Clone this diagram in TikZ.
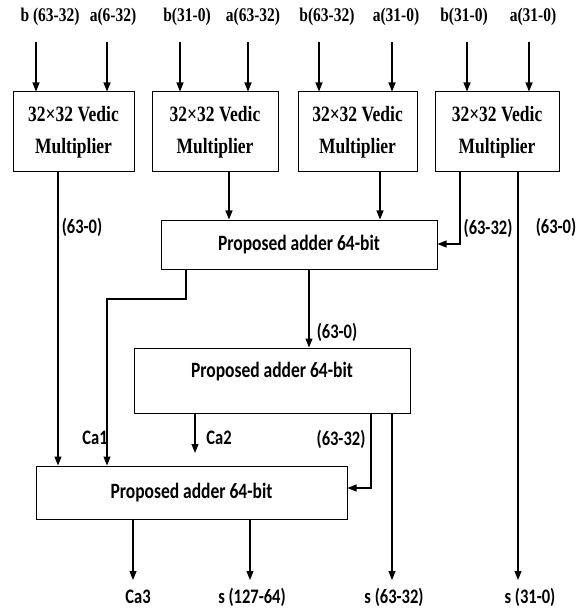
\documentclass[tikz,border=0pt]{standalone}
\usepackage{fontspec}
\setmainfont{Liberation Serif}
\newfontfamily\calfont{Carlito}
\usetikzlibrary{arrows.meta}
\newcommand{\vs}[1]{\scalebox{1}[1.25]{#1}}
\begin{document}
\begin{tikzpicture}[x=1pt,y=-1pt,
  box/.style={draw, line width=1pt, inner sep=0pt},
  mult/.style={box, align=center, font=\fontsize{17.5}{32}\selectfont\bfseries},
  adder/.style={box, font=\calfont\fontsize{17.5}{20}\selectfont\bfseries},
  inlab/.style={inner sep=0pt, font=\fontsize{15.5}{18}\selectfont\bfseries},
  lab/.style={inner sep=0pt, font=\calfont\fontsize{16.5}{18}\selectfont\bfseries},
  arr/.style={line width=1.1pt, -{Triangle[length=9pt,width=7pt]}},
  ln/.style={line width=1.1pt}]
\useasboundingbox (0,0) rectangle (582,612);
\fill[white] (0,0) rectangle (582,612);

% input labels
\node[inlab] (i1) at (50,17) {\vs{b (63-32)}};
\node[inlab] (i2) at (113,17) {\vs{a(6-32)}};
\node[inlab] (i3) at (187,17) {\vs{b(31-0)}};
\node[inlab] (i4) at (253,17) {\vs{a(63-32)}};
\node[inlab] (i5) at (327,17) {\vs{b(63-32)}};
\node[inlab] (i6) at (396,17) {\vs{a(31-0)}};
\node[inlab] (i7) at (464,17) {\vs{b(31-0)}};
\node[inlab] (i8) at (533,17) {\vs{a(31-0)}};

% multipliers
\node[mult, minimum width=121pt, minimum height=80pt] (m1) at (73.5,132) {\vs{32×32 Vedic}\\\vs{Multiplier}};
\node[mult, minimum width=126pt, minimum height=80pt] (m2) at (215,132) {\vs{32×32 Vedic}\\\vs{Multiplier}};
\node[mult, minimum width=119pt, minimum height=80pt] (m3) at (357.5,132) {\vs{32×32 Vedic}\\\vs{Multiplier}};
\node[mult, minimum width=124pt, minimum height=80pt] (m4) at (497,132) {\vs{32×32 Vedic}\\\vs{Multiplier}};

% adders
\node[adder, minimum width=276pt, minimum height=49pt] (a1) at (299,244.5) {\vs{Proposed adder 64-bit}};
\node[adder, minimum width=276pt, minimum height=65pt] (a2) at (272,380.5) {};
\node[lab, font=\calfont\fontsize{17.5}{20}\selectfont\bfseries] (a2t) at (272,372) {\vs{Proposed adder 64-bit}};
\node[adder, minimum width=311pt, minimum height=53pt] (a3) at (191.5,492.5) {\vs{Proposed adder 64-bit}};

% input arrows
\foreach \n/\x/\m in {1/36/m1,2/107/m1,3/180/m2,4/248/m2,5/319/m3,6/392/m3,7/467/m4,8/529/m4}{
  \coordinate (s\n) at (\x,42);
  \draw[arr] (s\n) -- (s\n |- \m.north);
}

% multiplier outputs
\draw[arr] (m1.south -| 58,0) -- (a3.north -| 58,0);
\draw[arr] (m2.south -| 229,0) -- (a1.north -| 229,0);
\draw[arr] (m3.south -| 380,0) -- (a1.north -| 380,0);
\draw[arr] (m4.south -| 460,0) -- (460,244) -- (a1.east |- 0,244);
\coordinate (o4) at (518,580);
\draw[arr] (m4.south -| o4) -- (o4);

% adder 1 outputs
\draw[arr] (a1.south -| 186,0) -- (186,299) -- (107,299) -- (a3.north -| 107,0);
\draw[arr] (a1.south -| 309,0) -- (a2.north -| 309,0);

% adder 2 outputs
\coordinate (c2) at (195,453);
\draw[arr] (a2.south -| c2) -- (c2);
\draw[arr] (a2.south -| 371,0) -- (371,488) -- (a3.east |- 0,488);
\coordinate (o2) at (392,580);
\draw[arr] (a2.south -| o2) -- (o2);

% adder 3 outputs
\coordinate (o3a) at (133,580);
\coordinate (o3b) at (250,580);
\draw[arr] (a3.south -| o3a) -- (o3a);
\draw[arr] (a3.south -| o3b) -- (o3b);

% labels
\node[lab] (l1) at (82,227) {\vs{(63-0)}};
\node[lab] (l2) at (488,228) {\vs{(63-32)}};
\node[lab] (l3) at (556,227) {\vs{(63-0)}};
\node[lab] (l4) at (337,332) {\vs{(63-0)}};
\node[lab] (l5) at (95,438) {\vs{Ca1}};
\node[lab] (l6) at (219,438) {\vs{Ca2}};
\node[lab] (l7) at (341,439) {\vs{(63-32)}};
\node[lab] (l8) at (138,597) {\vs{Ca3}};
\node[lab] (l9) at (252,597) {\vs{s (127-64)}};
\node[lab] (l10) at (394,597) {\vs{s (63-32)}};
\node[lab] (l11) at (530,597) {\vs{s (31-0)}};
\end{tikzpicture}
\end{document}
